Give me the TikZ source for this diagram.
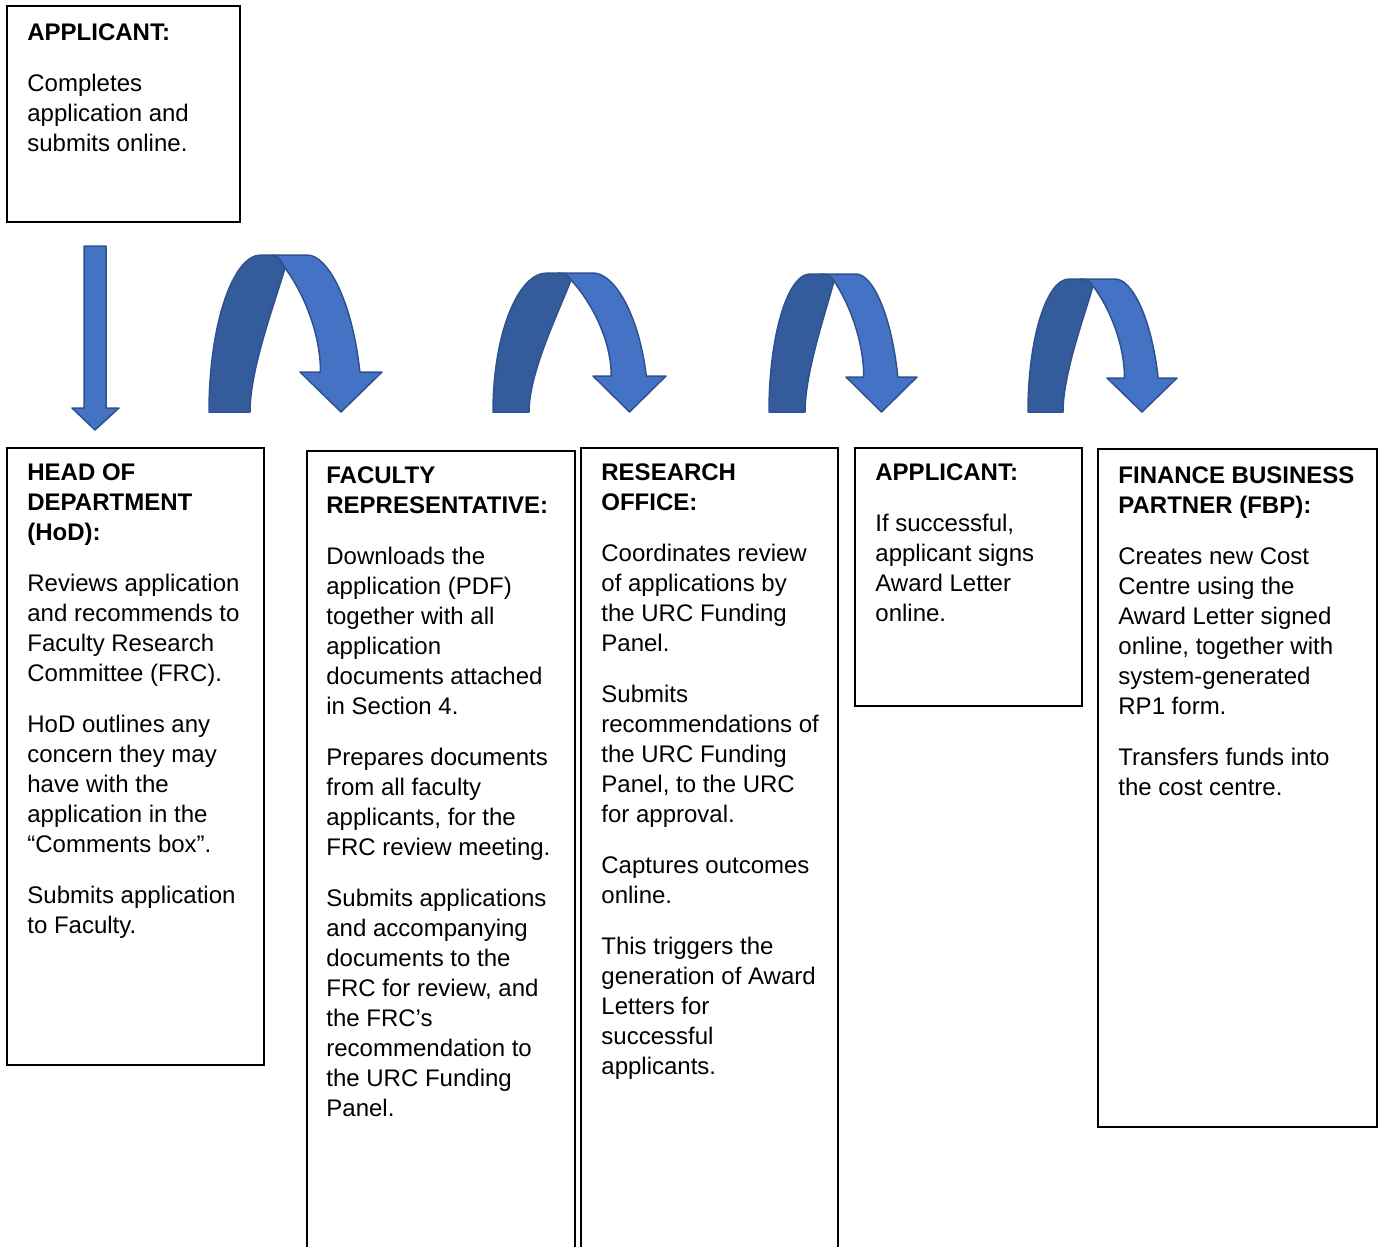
\documentclass[tikz,border=0pt]{standalone}
\usepackage{fontspec}
\setmainfont{Liberation Sans}
\usetikzlibrary{fit}
\definecolor{arrlight}{HTML}{4472C4}
\definecolor{arrdark}{HTML}{345B9C}
\definecolor{arrline}{HTML}{2F528F}
\tikzset{
  lightarr/.style={fill=arrlight, draw=arrline, line width=0.75pt, line join=round},
  darkarr/.style={fill=arrdark, draw=arrline, line width=0.75pt, line join=round},
  stagebox/.style={draw=black, line width=1pt, inner sep=0pt, fill=none},
  txt/.style={anchor=north west, inner sep=0pt, align=left, font=\fontsize{12}{15}\selectfont},
}
% L Li T Ax Ay Hy Hl Hr
\newcommand\carw[8]{%
  \pgfmathsetmacro\caFo{#7+0.73*(#8-#7)}%
  \pgfmathsetmacro\caFi{#7+0.25*(#8-#7)}%
  \pgfmathsetmacro\caTx{(#7+#8)/2}%
  \pgfmathsetmacro\caTa{#4-24}%
  \pgfmathsetmacro\caTb{#4+22}%
  \pgfmathsetmacro\caTc{#4-13}%
  \pgfmathsetmacro\caA{#3+0.45*(412-#3)}%
  \pgfmathsetmacro\caB{#1+0.45*(\caTa-#1)}%
  \pgfmathsetmacro\caC{#4-0.3*(#4-#2)}%
  \pgfmathsetmacro\caD{#5+0.25*(412-#5)}%
  \pgfmathsetmacro\caE{412-0.3*(412-#5)}%
  \pgfmathsetmacro\caF{\caTb+0.4*(\caFo-\caTb)}%
  \pgfmathsetmacro\caG{\caFo-0.1*(\caFo-#4)}%
  \pgfmathsetmacro\caH{#3+0.4*(#6-#3)}%
  \pgfmathsetmacro\caI{#6-0.4*(#6-#5)}%
  \pgfmathsetmacro\caJ{#4+0.45*(\caFi-#4)}%
  \pgfmathsetmacro\caK{#5+0.2*(#6-#5)}%
  \filldraw[darkarr] (#1,412) .. controls (#1,\caA) and (\caB,#3) .. (\caTa,#3)
    -- (\caTc,#3) .. controls ({#4-6},#3) and ({#4-2},{#5-4}) .. (#4,#5)
    .. controls (\caC,\caD) and (#2,\caE) .. (#2,412) -- cycle;
  \filldraw[lightarr] (\caTc,#3) -- (\caTb,#3) .. controls (\caF,#3) and (\caG,\caH) .. (\caFo,#6)
    -- (#8,#6) -- (\caTx,412) -- (#7,#6) -- (\caFi,#6)
    .. controls (\caFi,\caI) and (\caJ,\caK) .. (#4,#5)
    .. controls ({#4-2},{#5-4}) and ({#4-6},#3) .. (\caTc,#3) -- cycle;
}
\begin{document}
\begin{tikzpicture}[x=0.5pt,y=-0.5pt]
\useasboundingbox (0,0) rectangle (1381,1247);
\begin{scope}
\clip (0,0) rectangle (1381,1247);
\node[stagebox, fit={(7,6) (240,222)}] (b1) {};
\node[stagebox, fit={(7,448) (264,1065)}] (b2) {};
\node[stagebox, fit={(307,451) (575,1270)}] (b3) {};
\node[stagebox, fit={(581,448) (838,1270)}] (b4) {};
\node[stagebox, fit={(855,448) (1082,706)}] (b5) {};
\node[stagebox, fit={(1098,449) (1377,1127)}] (b6) {};
\end{scope}

\node[txt] (t1) at (27,23) {\textbf{APPLICANT:}\\[10.5pt]
Completes\\application and\\submits online.};

\node[txt] (t2) at (27,463) {\textbf{HEAD OF}\\\textbf{DEPARTMENT}\\\textbf{(HoD):}\\[10.5pt]
Reviews application\\and recommends to\\Faculty Research\\Committee (FRC).\\[10.5pt]
HoD outlines any\\concern they may\\have with the\\application in the\\“Comments box”.\\[10.5pt]
Submits application\\to Faculty.};

\node[txt] (t3) at (326,466) {\textbf{FACULTY}\\\textbf{REPRESENTATIVE:}\\[10.5pt]
Downloads the\\application (PDF)\\together with all\\application\\documents attached\\in Section 4.\\[10.5pt]
Prepares documents\\from all faculty\\applicants, for the\\FRC review meeting.\\[10.5pt]
Submits applications\\and accompanying\\documents to the\\FRC for review, and\\the FRC’s\\recommendation to\\the URC Funding\\Panel.};

\node[txt] (t4) at (601,463) {\textbf{RESEARCH}\\\textbf{OFFICE:}\\[10.5pt]
Coordinates review\\of applications by\\the URC Funding\\Panel.\\[10.5pt]
Submits\\recommendations of\\the URC Funding\\Panel, to the URC\\for approval.\\[10.5pt]
Captures outcomes\\online.\\[10.5pt]
This triggers the\\generation of Award\\Letters for\\successful\\applicants.};

\node[txt] (t5) at (875,463) {\textbf{APPLICANT:}\\[10.5pt]
If successful,\\applicant signs\\Award Letter\\online.};

\node[txt] (t6) at (1118,466) {\textbf{FINANCE BUSINESS}\\\textbf{PARTNER (FBP):}\\[10.5pt]
Creates new Cost\\Centre using the\\Award Letter signed\\online, together with\\system-generated\\RP1 form.\\[10.5pt]
Transfers funds into\\the cost centre.};

% straight down arrow
\filldraw[lightarr] (84,246) -- (106,246) -- (106,408) -- (119,408) -- (95,430) -- (72,408) -- (84,408) -- cycle;

% curved arrows
\carw{209}{250}{255}{285}{268}{372}{300}{382}
\carw{493}{529}{273}{571}{280}{376}{593}{666}
\carw{769}{805}{274}{834}{281}{377}{846}{917}
\carw{1028}{1063}{279}{1093}{286}{378}{1107}{1177}
\end{tikzpicture}
\end{document}
